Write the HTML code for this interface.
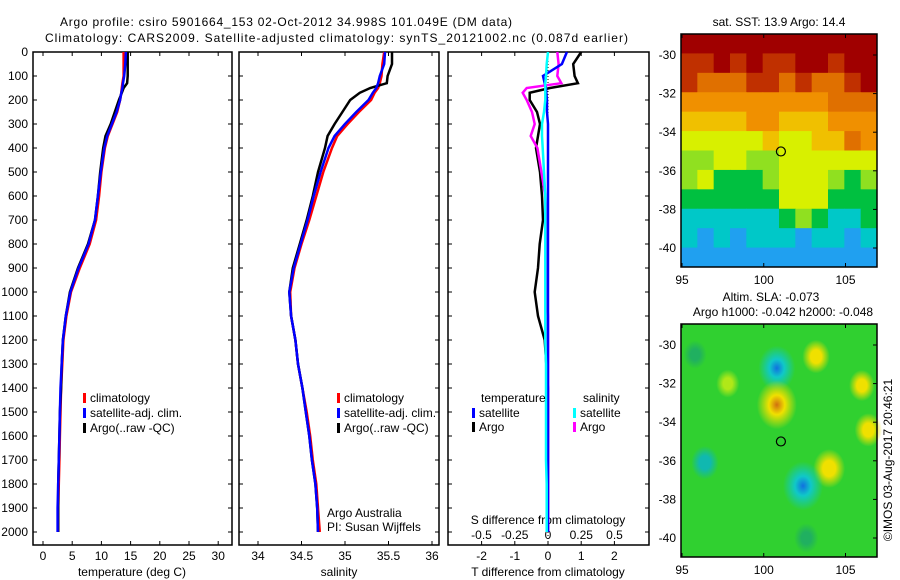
<!DOCTYPE html>
<html><head><meta charset="utf-8"><style>
html,body{margin:0;padding:0;background:#fff}
svg{display:block;font-family:"Liberation Sans",sans-serif;font-size:12px}
</style></head><body>
<svg id="c" width="900" height="580" viewBox="0 0 900 580" xmlns="http://www.w3.org/2000/svg">
<text x="60" y="26" textLength="452">Argo profile: csiro 5901664_153 02-Oct-2012 34.998S 101.049E (DM data)</text>
<text x="45" y="42" textLength="583">Climatology: CARS2009. Satellite-adjusted climatology: synTS_20121002.nc (0.087d earlier)</text>
<g id="g"></g>
</svg>
<script>
const depths=[0,50,100,130,150,170,200,250,300,350,400,500,600,700,800,900,1000,1100,1200,1300,1400,1500,1600,1700,1800,1900,2000];
const tempArgo=[14.5,14.5,14.5,14.4,13.8,13.5,13.0,12.3,11.6,10.7,10.3,9.8,9.4,8.9,7.7,6.0,4.6,3.9,3.4,3.2,3.1,2.9,2.8,2.7,2.6,2.6,2.6];
const tempSat=[14.2,14.1,13.9,13.7,13.6,13.4,13.2,12.6,11.8,11.0,10.5,9.9,9.4,8.9,7.8,6.1,4.7,3.9,3.4,3.2,3.0,2.9,2.8,2.7,2.6,2.5,2.5];
const tempClim=[13.8,13.8,13.8,13.6,13.5,13.4,13.2,12.7,11.9,11.1,10.6,10.0,9.6,9.1,8.0,6.3,4.8,4.0,3.5,3.3,3.1,3.0,2.9,2.8,2.7,2.6,2.6];
const salArgo=[35.54,35.54,35.49,35.48,35.29,35.17,35.06,34.97,34.88,34.80,34.77,34.69,34.63,34.56,34.48,34.40,34.36,34.38,34.43,34.46,34.51,34.55,34.59,34.62,34.66,34.68,34.69];
const salSat=[35.46,35.45,35.40,35.38,35.36,35.32,35.27,35.13,35.00,34.88,34.81,34.72,34.64,34.57,34.49,34.41,34.36,34.38,34.43,34.46,34.51,34.55,34.59,34.62,34.66,34.68,34.69];
const salClim=[35.45,35.43,35.42,35.40,35.38,35.34,35.30,35.16,35.03,34.91,34.85,34.75,34.67,34.59,34.50,34.42,34.37,34.38,34.43,34.46,34.51,34.56,34.60,34.63,34.67,34.69,34.71];
const dTArgo=[1.0,0.76,0.8,0.9,0.06,-0.55,-0.55,-0.33,-0.24,-0.3,-0.36,-0.24,-0.18,-0.15,-0.25,-0.3,-0.4,-0.3,-0.1,-0.05,0,0,0,0,0,0,0];
const dTSat=[0.57,0.42,-0.15,-0.1,-0.06,-0.05,-0.03,-0.03,0,0,0,0,0,0,0,0,0,0,0,0,0,0,0,0,0,0,0];
const dSSat=[0,-0.01,-0.015,-0.02,-0.02,-0.02,-0.02,-0.03,-0.045,-0.045,-0.04,-0.03,-0.02,-0.02,-0.02,-0.02,-0.02,-0.02,-0.02,-0.015,-0.015,-0.015,-0.015,-0.015,-0.01,-0.01,-0.01];
const dSArgo=[0.07,0.08,0.07,0.1,-0.16,-0.19,-0.16,-0.12,-0.1,-0.13,-0.08,-0.05,-0.02,-0.01,-0.01,-0.01,-0.01,0,0,0,0,0,0,0,0,0,0];
const depthTicks=[0,100,200,300,400,500,600,700,800,900,1000,1100,1200,1300,1400,1500,1600,1700,1800,1900,2000];
const tempTicks=[0,5,10,15,20,25,30];
const salTicks=[34,34.5,35,35.5,36];
const dTTicks=[-2,-1,0,1,2];
const dSTicks=[-0.5,-0.25,0,0.25,0.5];
const dSTickLabels=["-0.5","-0.25","0","0.25","0.5"];
// SST map grid (colour index 0..9), rows lat -29..-41, cols lon 95..107
const sstGrid=[
[9,9,9,9,9,9,9,9,9,9,9,9],
[8,8,9,8,9,8,8,9,9,8,9,9],
[8,7,7,7,8,8,7,8,7,7,8,9],
[6,6,6,6,6,6,6,6,6,7,7,7],
[5,5,5,5,6,6,5,5,5,6,6,6],
[4,4,4,4,4,5,4,4,5,5,7,6],
[3,3,4,4,3,3,4,4,4,4,4,4],
[3,4,2,2,2,3,4,4,4,3,2,3],
[2,2,2,2,2,2,4,4,4,2,2,2],
[1,1,1,1,1,1,2,3,2,1,1,2],
[1,0,1,0,1,1,1,0,1,1,0,1],
[0,0,0,0,0,0,0,0,0,0,0,0]];
const slaLon=[100.8,100.8,103.2,106.0,106.4,104.0,102.4,96.4,97.8,102.6,95.8];
const slaLat=[-31.2,-33.1,-30.6,-32.1,-34.4,-36.4,-37.3,-36.1,-32.0,-40.0,-30.5];
const slaVal=[-0.3,0.35,0.15,0.12,0.15,0.22,-0.35,-0.15,0.08,-0.1,-0.08];
const palette=["#20a0f0","#00c8c8","#00c040","#90e020","#d8f000","#f0c000","#f09000","#e07000","#c03000","#a00000"];

const NS="http://www.w3.org/2000/svg", G=document.getElementById('g');
function el(t,a,p){const e=document.createElementNS(NS,t);for(const k in a)e.setAttribute(k,a[k]);(p||G).appendChild(e);return e;}
const yD=d=>52+d*0.24;
const xT=v=>43+v*5.84, xS=v=>258+(v-34)*87, xdT=v=>548+v*33.2, xdS=v=>548+v*133;
const TOP=52,BOT=545;

function frame(x0,x1,name){
  const r=el('rect',{x:x0,y:TOP,width:x1-x0,height:BOT-TOP,fill:'none',stroke:'#000','stroke-width':1.5});
  
  
  depthTicks.forEach(d=>{el('line',{x1:x0,x2:x0+4,y1:yD(d),y2:yD(d),stroke:'#000'});el('line',{x1:x1-4,x2:x1,y1:yD(d),y2:yD(d),stroke:'#000'});});
}
function xticks(vals,fx,labels,ly,name){
  vals.forEach((v,i)=>{const x=fx(v);el('line',{x1:x,x2:x,y1:BOT,y2:BOT-4,stroke:'#000'});el('line',{x1:x,x2:x,y1:TOP,y2:TOP+4,stroke:'#000'});
    const t=el('text',{x:x,y:ly,'text-anchor':'middle'});t.textContent=labels?labels[i]:String(v);
    
    });
}
function line(xs,fx,color,name){
  const pts=depths.map((d,i)=>fx(xs[i]).toFixed(1)+','+yD(d).toFixed(1)).join(' ');
  const p=el('polyline',{points:pts,fill:'none',stroke:color,'stroke-width':2.5,'stroke-linejoin':'miter'});
  
  
}
function txt(x,y,s,name,anchor){const t=el('text',{x:x,y:y,'text-anchor':anchor||'start'});t.textContent=s;
  
  return t;}
function legend(x,y,color,label){el('rect',{x:x,y:y-9,width:3,height:10,fill:color});txt(x+7,y,label,'legend-entry');}

// panel 1
frame(33,232,'temperature-panel');
depthTicks.forEach(d=>txt(28,yD(d)+4,String(d),'depth-tick-label','end'));
xticks(tempTicks,xT,null,560,'temperature-tick-label');
txt(132,576,'temperature (deg C)','temperature-axis-title','middle');
line(tempClim,xT,'#f00','temperature-climatology');
line(tempArgo,xT,'#000','temperature-argo');
line(tempSat,xT,'#00f','temperature-satellite');
legend(83,402,'#f00','climatology');legend(83,417,'#00f','satellite-adj. clim.');legend(83,432,'#000','Argo(..raw -QC)');

// panel 2
frame(239,439,'salinity-panel');
xticks(salTicks,xS,null,560,'salinity-tick-label');
txt(339,576,'salinity','salinity-axis-title','middle');
line(salClim,xS,'#f00','salinity-climatology');
line(salArgo,xS,'#000','salinity-argo');
line(salSat,xS,'#00f','salinity-satellite');
legend(337,402,'#f00','climatology');legend(337,417,'#00f','satellite-adj. clim.');legend(337,432,'#000','Argo(..raw -QC)');
txt(327,517,'Argo Australia','credit-line-1');txt(327,531,'PI: Susan Wijffels','credit-line-2');

// panel 3
frame(448,649,'difference-panel');
el('line',{x1:xdT(0),x2:xdT(0),y1:TOP,y2:BOT,stroke:'#000','stroke-dasharray':'1,2'});
xticks(dTTicks,xdT,null,560,'t-diff-tick-label');
dSTicks.forEach((v,i)=>txt(xdS(v),539,dSTickLabels[i],'s-diff-tick-label','middle'));
txt(548,524,'S difference from climatology','s-diff-axis-title','middle');
txt(548,576,'T difference from climatology','t-diff-axis-title','middle');
line(dTArgo,xdT,'#000','t-diff-argo');
line(dSArgo,xdS,'#f0f','s-diff-argo');
line(dTSat,xdT,'#00f','t-diff-satellite');
line(dSSat,xdS,'#0ff','s-diff-satellite');
txt(481,402,'temperature','legend-title-temperature');txt(583,402,'salinity','legend-title-salinity');
legend(472,417,'#00f','satellite');legend(472,431,'#000','Argo');
legend(573,417,'#0ff','satellite');legend(573,431,'#f0f','Argo');

// maps
const mx=lon=>682+(lon-95)*16.35;
function mapAxes(y0,name){
  const yL=lat=>y0+21+(-30-lat)*19.3;
  [-30,-32,-34,-36,-38,-40].forEach(l=>{el('line',{x1:873,x2:877,y1:yL(l),y2:yL(l),stroke:'#000'});txt(676,yL(l)+4,String(l),'latitude-tick-label','end');});
  [95,100,105].forEach(l=>{el('line',{x1:mx(l),x2:mx(l),y1:y0,y2:y0+4,stroke:'#000'});el('line',{x1:mx(l),x2:mx(l),y1:y0+229,y2:y0+233,stroke:'#000'});txt(mx(l),y0+250,String(l),'longitude-tick-label','middle');});
  const r=el('rect',{x:681,y:y0,width:196,height:233,fill:'none',stroke:'#000','stroke-width':1.5});
  
  
  const c=el('circle',{cx:mx(101.049),cy:yL(-34.998),r:4.5,fill:'none',stroke:'#000','stroke-width':1.2});
  
  
  return yL;
}
// SST heatmap
const y1=34, cw=196/12, ch=233/12;
sstGrid.forEach((row,r)=>row.forEach((v,c)=>{
  const e=el('rect',{x:681+c*cw,y:y1+r*ch,width:cw+0.5,height:ch+0.5,fill:palette[v]});
  
  
}));
mapAxes(y1,'sst-map');
txt(779,26,'sat. SST: 13.9 Argo: 14.4','sst-map-title','middle');

// SLA map
const y2=324;
const defs=el('defs',{});
el('rect',{x:681,y:y2,width:196,height:233,fill:'#30d030'});
const yL2=lat=>y2+21+(-30-lat)*19.3;
slaVal.forEach((v,i)=>{
  const id='sg'+i;const gr=el('radialGradient',{id:id},defs);
  const col=v>0.25?'#d07010':v>0.1?'#f0e000':v>0?'#b0e818':v<-0.25?'#1070e0':v<-0.1?'#10b8b0':'#20b060';
  const mid=v>0.25?'#f0e000':v<-0.25?'#10c8c8':col;
  el('stop',{offset:'0%','stop-color':col},gr);
  el('stop',{offset:'40%','stop-color':mid},gr);
  el('stop',{offset:'100%','stop-color':mid,'stop-opacity':0},gr);
  const rr=10+Math.abs(v)*35;
  const e=el('ellipse',{cx:mx(slaLon[i]),cy:yL2(slaLat[i]),rx:rr*0.9,ry:rr*1.1,fill:'url(#'+id+')'});
  
  
});
mapAxes(y2,'sla-map');
txt(771,301,'Altim. SLA: -0.073','sla-map-title','middle');
txt(783,316,'Argo h1000: -0.042 h2000: -0.048','sla-map-subtitle','middle');
const cr=txt(0,0,'©IMOS 03-Aug-2017 20:46:21','imos-timestamp','middle');
cr.setAttribute('transform','translate(892,460) rotate(-90)');
</script>
</body></html>
